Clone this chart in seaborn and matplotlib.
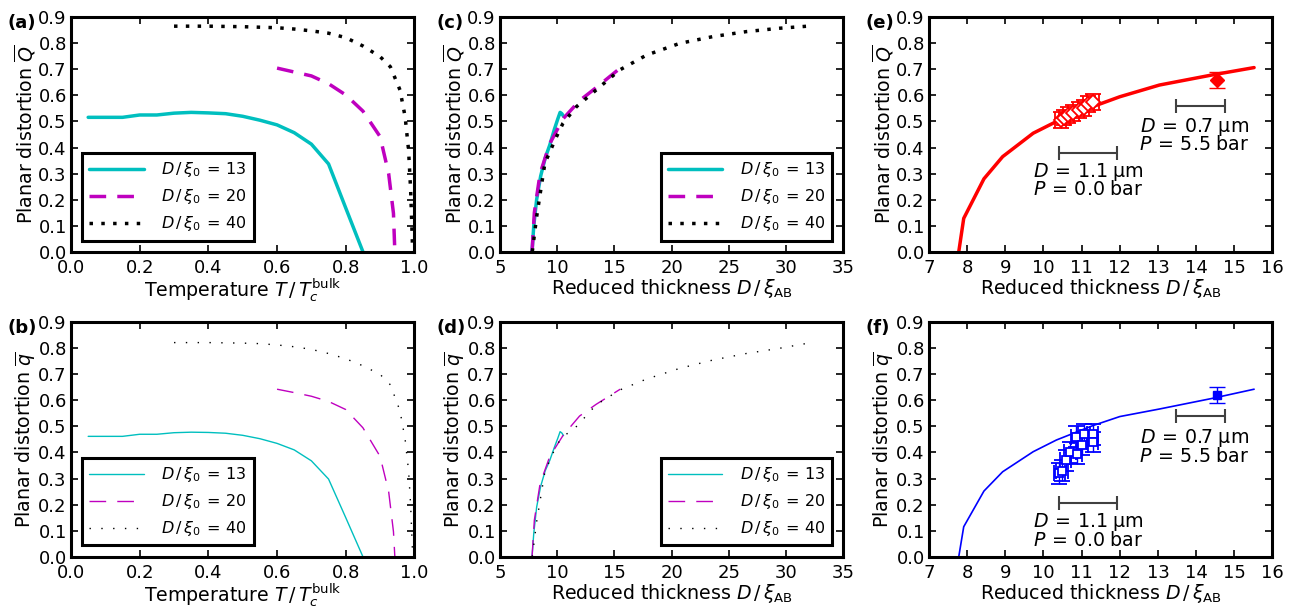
import numpy as np
import pandas as pd
import matplotlib
matplotlib.use('Agg')
import matplotlib.pyplot as plt
import seaborn as sns

# ---- donnees ----
# (a) Q en fonction de T/Tc
T13 = [0.05, 0.10, 0.15, 0.20, 0.25, 0.30, 0.35, 0.40, 0.45, 0.50, 0.55, 0.60, 0.65, 0.70, 0.75, 0.80, 0.85]
Q13_T = [0.516, 0.516, 0.516, 0.525, 0.525, 0.532, 0.535, 0.533, 0.530, 0.520, 0.505, 0.487, 0.457, 0.413, 0.337, 0.168, 0.0]
T20 = [0.60, 0.65, 0.70, 0.75, 0.80, 0.85, 0.90, 0.925, 0.939, 0.943]
Q20_T = [0.705, 0.690, 0.675, 0.645, 0.602, 0.540, 0.442, 0.300, 0.147, 0.0]
T40 = [0.30, 0.35, 0.40, 0.45, 0.50, 0.55, 0.60, 0.65, 0.70, 0.75, 0.80, 0.85, 0.90, 0.93, 0.958, 0.973, 0.983, 0.989, 0.995]
Q40_T = [0.866, 0.866, 0.866, 0.865, 0.864, 0.862, 0.860, 0.855, 0.848, 0.839, 0.822, 0.790, 0.749, 0.710, 0.621, 0.518, 0.390, 0.237, 0.0]

# (b) q en fonction de T/Tc
q13_T = [0.462, 0.462, 0.462, 0.470, 0.470, 0.476, 0.478, 0.477, 0.474, 0.466, 0.453, 0.435, 0.410, 0.368, 0.298, 0.150, 0.0]
q20_T = [0.643, 0.630, 0.616, 0.596, 0.565, 0.495, 0.385, 0.250, 0.096, 0.0]
q40_T = [0.822, 0.822, 0.822, 0.821, 0.820, 0.818, 0.813, 0.806, 0.796, 0.780, 0.760, 0.733, 0.700, 0.660, 0.560, 0.450, 0.330, 0.198, 0.0]

# (c) Q en fonction de D/xi_AB
x13 = [7.8, 7.95, 8.2, 8.55, 8.95, 9.35, 9.75, 10.05, 10.25, 10.4, 10.55]
Q13_D = [0.0, 0.10, 0.20, 0.29, 0.36, 0.41, 0.47, 0.51, 0.535, 0.53, 0.52]
x20 = [7.8, 8.0, 8.5, 9.35, 10.5, 11.95, 13.4, 15.5]
Q20_D = [0.0, 0.15, 0.30, 0.415, 0.51, 0.58, 0.63, 0.705]
x40 = [7.82, 8.2, 8.92, 9.94, 10.5, 11.68, 13.4, 15.46, 17.8, 20.7, 23.6, 26.5, 29.4, 32.2]
Q40_D = [0.0, 0.134, 0.34, 0.442, 0.493, 0.557, 0.621, 0.698, 0.755, 0.80, 0.826, 0.845, 0.858, 0.867]

# (d) q en fonction de D/xi_AB
q13_D = [0.0, 0.09, 0.19, 0.27, 0.33, 0.37, 0.42, 0.455, 0.48, 0.475, 0.465]
q20_D = [0.0, 0.14, 0.28, 0.385, 0.465, 0.54, 0.585, 0.643]
q40_D = [0.0, 0.134, 0.326, 0.429, 0.46, 0.50, 0.583, 0.640, 0.682, 0.723, 0.755, 0.780, 0.800, 0.822]

# (e)/(f) courbe theorique et mesures
x_th = [7.78, 7.91, 8.44, 8.93, 9.73, 10.34, 11.29, 12.0, 13.04, 14.43, 15.52]
Q_th = [0.0, 0.128, 0.28, 0.365, 0.455, 0.50, 0.557, 0.595, 0.64, 0.679, 0.707]
q_th = [0.0, 0.115, 0.252, 0.326, 0.403, 0.448, 0.503, 0.538, 0.567, 0.608, 0.643]

xQ_open = [10.45, 10.55, 10.65, 10.78, 10.92, 11.05, 11.18, 11.30]
Q_open = [0.505, 0.515, 0.525, 0.532, 0.544, 0.552, 0.568, 0.575]
xQ_fill, Q_fill = [14.55], [0.66]

xq_open = [10.42, 10.48, 10.58, 10.70, 10.86, 10.87, 11.02, 11.06, 11.29, 11.29]
q_open = [0.32, 0.33, 0.37, 0.40, 0.46, 0.395, 0.43, 0.47, 0.47, 0.44]
xq_fill, q_fill = [14.55], [0.62]

# plages d'epaisseur (barres grises) : (bas, haut)
range_11 = (10.42, 11.93)
range_07 = (13.47, 14.75)

labels = [r'$D\,/\,\xi_0\,=\,13$', r'$D\,/\,\xi_0\,=\,20$', r'$D\,/\,\xi_0\,=\,40$']

sns.set_style('ticks')
plt.rcParams['font.family'] = ['DejaVu Sans']
plt.rcParams['mathtext.fontset'] = 'dejavusans'
plt.rcParams['lines.scale_dashes'] = False
plt.rcParams['xtick.direction'] = 'in'
plt.rcParams['ytick.direction'] = 'in'
plt.rcParams['xtick.top'] = True
plt.rcParams['ytick.right'] = True
for k in ['text.color', 'axes.labelcolor', 'xtick.color', 'ytick.color', 'axes.edgecolor']:
    plt.rcParams[k] = 'black'

fig = plt.figure(figsize=(12.91, 6.12), dpi=100)
lefts = [0.055, 0.3873, 0.7196]
bottoms = [0.5887, 0.0904]
w, h = 0.266, 0.383
axes = {}
names = [['a', 'c', 'e'], ['b', 'd', 'f']]
for r in range(2):
    for c in range(3):
        axes[names[r][c]] = fig.add_axes([lefts[c], bottoms[r], w, h])

DASH = (0, (12, 8))


def styles(lw):
    dot = (0, (lw, 8.5 - lw))
    return [dict(color='c', lw=lw, linestyle='-'),
            dict(color='m', lw=lw, linestyle=DASH),
            dict(color='k', lw=lw, linestyle=dot)]


def curves(ax, xs, ys, lw):
    for x, y, st, lab in zip(xs, ys, styles(lw), labels):
        df = pd.DataFrame({'x': x, 'y': y})
        sns.lineplot(data=df, x='x', y='y', ax=ax, sort=False, estimator=None,
                     label=lab, **st)


def finish(ax, letter, ylab, xlab, xlim, xticks):
    ax.set_xlim(*xlim)
    ax.set_ylim(0, 0.9)
    ax.set_xticks(xticks)
    ax.set_yticks(np.arange(0, 0.91, 0.1))
    ax.set_xticklabels([('%.1f' % t) if isinstance(t, float) else str(t) for t in xticks])
    ax.set_yticklabels(['%.1f' % t for t in np.arange(0, 0.91, 0.1)])
    ax.tick_params(labelsize=13, length=5, width=1.2, pad=3)
    ax.tick_params(axis='x', pad=5)
    for s in ax.spines.values():
        s.set_linewidth(2.2)
    ax.set_xlabel(xlab, fontsize=13.7, labelpad=0)
    ax.set_ylabel(ylab, fontsize=13.7, labelpad=0)
    ax.text(-0.185, 0.975, '(%s)' % letter, transform=ax.transAxes,
            fontsize=13, fontweight='bold', ha='left', va='center')


def legend(ax, loc):
    leg = ax.legend(loc=loc, fontsize=11.5, handlelength=3.4, handletextpad=1.1,
                    labelspacing=0.5, borderpad=0.45, borderaxespad=0.7,
                    fancybox=False, framealpha=1, edgecolor='k')
    leg.get_frame().set_linewidth(2.2)


xlab_T = r'Temperature $T\,/\,T_c^{\mathrm{bulk}}$'
xlab_D = r'Reduced thickness $D\,/\,\xi_{\mathrm{AB}}$'
ylab_Q = r'Planar distortion $\overline{Q}$'
ylab_q = r'Planar distortion $\overline{q}$'
Tticks = [0.0, 0.2, 0.4, 0.6, 0.8, 1.0]

curves(axes['a'], [T13, T20, T40], [Q13_T, Q20_T, Q40_T], 2.5)
finish(axes['a'], 'a', ylab_Q, xlab_T, (0, 1), Tticks)
legend(axes['a'], 'lower left')

curves(axes['b'], [T13, T20, T40], [q13_T, q20_T, q40_T], 1.0)
finish(axes['b'], 'b', ylab_q, xlab_T, (0, 1), Tticks)
legend(axes['b'], 'lower left')

curves(axes['c'], [x13, x20, x40], [Q13_D, Q20_D, Q40_D], 2.5)
finish(axes['c'], 'c', ylab_Q, xlab_D, (5, 35), list(range(5, 36, 5)))
legend(axes['c'], 'lower right')

curves(axes['d'], [x13, x20, x40], [q13_D, q20_D, q40_D], 1.0)
finish(axes['d'], 'd', ylab_q, xlab_D, (5, 35), list(range(5, 36, 5)))
legend(axes['d'], 'lower right')


def exp_panel(ax, letter, ylab, yth, lw, color, mk, ms, xo, yo, xf, yf, yerr_o, bars, pos):
    sns.lineplot(x=x_th, y=yth, ax=ax, color=color, lw=lw, sort=False, estimator=None)
    ax.errorbar(xo, yo, xerr=0.15, yerr=yerr_o, fmt=mk, ms=ms, mfc='white', mec=color,
                mew=1.3, ecolor=color, elinewidth=1.0, capsize=6, capthick=1.0, zorder=3)
    ax.errorbar(xf, yf, yerr=0.03, fmt=mk, ms=ms, mfc=color, mec=color,
                ecolor=color, elinewidth=1.0, capsize=6, capthick=1.0, zorder=3)
    for (lo, hi), yb, (l1, l2), (xt, yt1, yt2) in zip([range_11, range_07], bars, lines_txt, pos):
        ax.errorbar([(lo + hi) / 2], [yb], xerr=[(hi - lo) / 2], fmt='none',
                    ecolor='0.25', elinewidth=1.5, capsize=5, capthick=1.5)
        ax.text(xt, yt1, l1, ha='center', va='center', fontsize=13.7)
        ax.text(xt, yt2, l2, ha='center', va='center', fontsize=13.7)
    finish(ax, letter, ylab, xlab_D, (7, 16), list(range(7, 17)))


lines_txt = [(r'$D\,=\,1.1\;\mathrm{\mu m}$', r'$P\,=\,0.0\;\mathrm{bar}$'),
             (r'$D\,=\,0.7\;\mathrm{\mu m}$', r'$P\,=\,5.5\;\mathrm{bar}$')]

exp_panel(axes['e'], 'e', ylab_Q, Q_th, 2.5, 'red', 'D', 7.5, xQ_open, Q_open, xQ_fill, Q_fill, 0.03,
          [0.38, 0.561], [(11.17, 0.307, 0.237), (13.95, 0.48, 0.41)])
exp_panel(axes['f'], 'f', ylab_q, q_th, 1.2, 'blue', 's', 6.3, xq_open, q_open, xq_fill, q_fill, 0.04,
          [0.205, 0.54], [(11.17, 0.134, 0.064), (13.95, 0.455, 0.384)])

fig.savefig('out.png', dpi=100)
